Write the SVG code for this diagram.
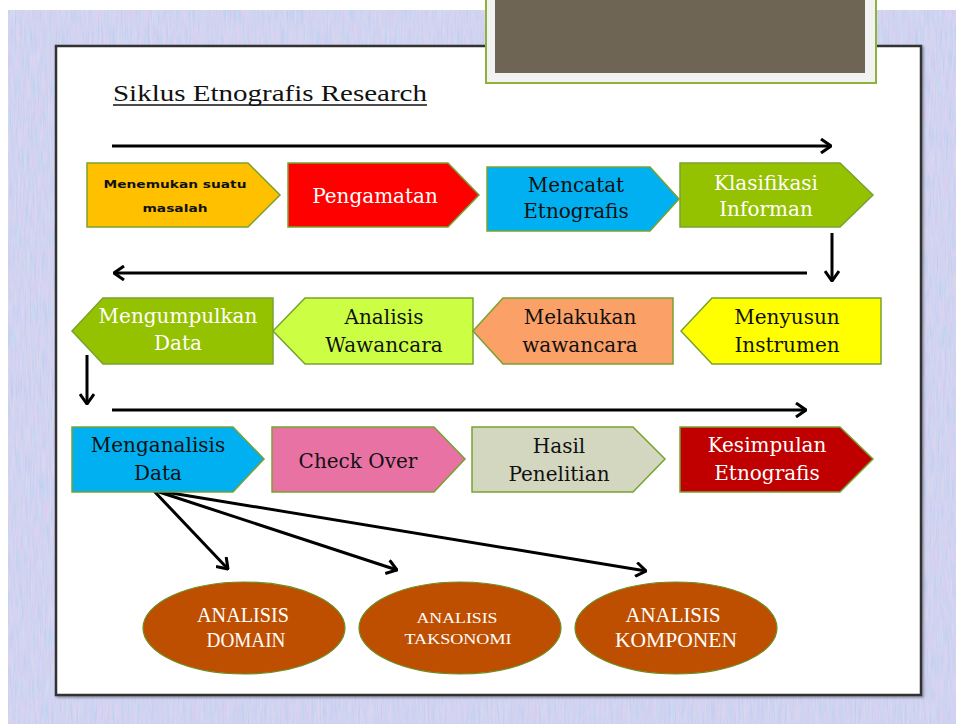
<svg xmlns="http://www.w3.org/2000/svg" width="956" height="724" viewBox="0 0 956 724">
<defs>
<style>
.pent{stroke:#78A22F;stroke-width:1.5}
.t{font-family:"DejaVu Serif","Liberation Serif",serif;font-size:20px;text-anchor:middle}
.w{fill:#FFFFFF}
.b{fill:#111111}
.ell{fill:#BF4F00;stroke:#6B8E23;stroke-width:1.2}
.et{font-family:"Liberation Serif",serif;fill:#FFFFFF;text-anchor:middle}
.conn{stroke:#000;stroke-width:3;fill:none}
</style>
<marker id="ah" viewBox="0 0 12 16" refX="11" refY="8" markerWidth="12" markerHeight="16" markerUnits="userSpaceOnUse" orient="auto">
<polyline points="1,1 11,8 1,15" fill="none" stroke="#000" stroke-width="3" stroke-linejoin="miter"/>
</marker>
<filter id="tex" x="0" y="0" width="100%" height="100%">
<feTurbulence type="fractalNoise" baseFrequency="0.6 0.04" numOctaves="3" seed="7" result="n"/>
<feColorMatrix in="n" type="matrix" values="1.2 0 0 0 0.2  0 0.4 0 0 0.5  0 0 0.3 0 0.72  0 0 0 0 0.35" result="c"/>
<feComposite in="c" in2="SourceGraphic" operator="in"/>
</filter>
<filter id="sh" x="-5%" y="-5%" width="110%" height="110%">
<feDropShadow dx="1.5" dy="1.5" stdDeviation="1.2" flood-color="#000" flood-opacity="0.35"/>
</filter>
</defs>

<rect x="0" y="0" width="956" height="724" fill="#FFFFFF"/>
<g id="background">
<rect x="8" y="10" width="948" height="714" fill="#C5CFF0"/>
<rect x="8" y="10" width="948" height="714" fill="#D6D0EE" filter="url(#tex)"/>
</g>

<g id="panel">
<rect x="56" y="46" width="865" height="649" fill="#FFFFFF" stroke="#333333" stroke-width="2.5" filter="url(#sh)"/>
</g>

<g id="title-box">
<rect x="486" y="-4" width="390" height="87" fill="#F2F2F2" stroke="#8DB33A" stroke-width="2"/>
<rect x="495" y="-4" width="370" height="77" fill="#6F6555"/>
</g>

<g id="title">
<text x="113" y="101" font-family="'Liberation Serif',serif" font-size="23" fill="#111" textLength="314" lengthAdjust="spacingAndGlyphs">Siklus Etnografis Research</text>
<line x1="113" y1="105" x2="427" y2="105" stroke="#111" stroke-width="1.5"/>
</g>

<g id="connectors">
<line class="conn" x1="112" y1="146" x2="831" y2="146" marker-end="url(#ah)"/>
<line class="conn" x1="832" y1="233" x2="832" y2="281" marker-end="url(#ah)"/>
<line class="conn" x1="807" y1="273" x2="114" y2="273" marker-end="url(#ah)"/>
<line class="conn" x1="87" y1="355" x2="87" y2="404" marker-end="url(#ah)"/>
<line class="conn" x1="112" y1="410" x2="806" y2="410" marker-end="url(#ah)"/>
<line class="conn" x1="153" y1="490" x2="228" y2="569" marker-end="url(#ah)"/>
<line class="conn" x1="153" y1="490" x2="397" y2="570" marker-end="url(#ah)"/>
<line class="conn" x1="153" y1="490" x2="646" y2="571" marker-end="url(#ah)"/>
</g>

<g id="n-menemukan">
<polygon class="pent" fill="#FFC000" points="87,163 248,163 280,195 248,227 87,227"/>
<text x="175" y="188" font-family="'DejaVu Sans',sans-serif" font-weight="bold" font-size="11" fill="#111" text-anchor="middle" textLength="143" lengthAdjust="spacingAndGlyphs">Menemukan suatu</text>
<text x="175" y="212" font-family="'DejaVu Sans',sans-serif" font-weight="bold" font-size="11" fill="#111" text-anchor="middle" textLength="65" lengthAdjust="spacingAndGlyphs">masalah</text>
</g>
<g id="n-pengamatan">
<polygon class="pent" fill="#FF0000" points="288,163 448,163 479,195 448,227 288,227"/>
<text class="t w" x="375" y="203">Pengamatan</text>
</g>
<g id="n-mencatat">
<polygon class="pent" fill="#00B0F0" points="487,167 650,167 679,199 650,231 487,231"/>
<text class="t b" x="576" y="192">Mencatat</text>
<text class="t b" x="576" y="218">Etnografis</text>
</g>
<g id="n-klasifikasi">
<polygon class="pent" fill="#95C200" points="680,163 840,163 873,195 840,227 680,227"/>
<text class="t w" x="766" y="190">Klasifikasi</text>
<text class="t w" x="766" y="216">Informan</text>
</g>

<g id="n-mengumpulkan">
<polygon class="pent" fill="#95C200" points="72,331 103,298 273,298 273,364 103,364"/>
<text class="t w" x="178" y="323">Mengumpulkan</text>
<text class="t w" x="178" y="350">Data</text>
</g>
<g id="n-analisis-wawancara">
<polygon class="pent" fill="#CCFF44" points="273,331 305,298 473,298 473,364 305,364"/>
<text class="t b" x="384" y="324">Analisis</text>
<text class="t b" x="384" y="352">Wawancara</text>
</g>
<g id="n-melakukan">
<polygon class="pent" fill="#FBA066" points="473,331 503,298 673,298 673,364 503,364"/>
<text class="t b" x="580" y="324">Melakukan</text>
<text class="t b" x="580" y="352">wawancara</text>
</g>
<g id="n-menyusun">
<polygon class="pent" fill="#FFFF00" points="681,331 712,298 881,298 881,364 712,364"/>
<text class="t b" x="787" y="324">Menyusun</text>
<text class="t b" x="787" y="352">Instrumen</text>
</g>

<g id="n-menganalisis">
<polygon class="pent" fill="#00B0F0" points="72,427 233,427 264,459 233,492 72,492"/>
<text class="t b" x="158" y="452">Menganalisis</text>
<text class="t b" x="158" y="480">Data</text>
</g>
<g id="n-check-over">
<polygon class="pent" fill="#E972A5" points="272,427 434,427 465,459 434,492 272,492"/>
<text class="t b" x="358" y="468">Check Over</text>
</g>
<g id="n-hasil">
<polygon class="pent" fill="#D3D7BF" points="472,427 633,427 665,459 633,492 472,492"/>
<text class="t b" x="559" y="453">Hasil</text>
<text class="t b" x="559" y="481">Penelitian</text>
</g>
<g id="n-kesimpulan">
<polygon class="pent" fill="#C00000" points="680,427 840,427 873,459 840,492 680,492"/>
<text class="t w" x="767" y="452">Kesimpulan</text>
<text class="t w" x="767" y="480">Etnografis</text>
</g>

<g id="n-domain">
<ellipse class="ell" cx="244" cy="628" rx="101" ry="46"/>
<text class="et" x="243" y="622" font-size="21" textLength="92" lengthAdjust="spacingAndGlyphs">ANALISIS</text>
<text class="et" x="246" y="647" font-size="21" textLength="79" lengthAdjust="spacingAndGlyphs">DOMAIN</text>
</g>
<g id="n-taksonomi">
<ellipse class="ell" cx="460" cy="628" rx="101" ry="46"/>
<text class="et" x="457" y="623" font-size="15" textLength="81" lengthAdjust="spacingAndGlyphs">ANALISIS</text>
<text class="et" x="458" y="644" font-size="15" textLength="107" lengthAdjust="spacingAndGlyphs">TAKSONOMI</text>
</g>
<g id="n-komponen">
<ellipse class="ell" cx="676" cy="628" rx="101" ry="46"/>
<text class="et" x="673" y="622" font-size="21" textLength="95" lengthAdjust="spacingAndGlyphs">ANALISIS</text>
<text class="et" x="676" y="647" font-size="21" textLength="122" lengthAdjust="spacingAndGlyphs">KOMPONEN</text>
</g>
</svg>
